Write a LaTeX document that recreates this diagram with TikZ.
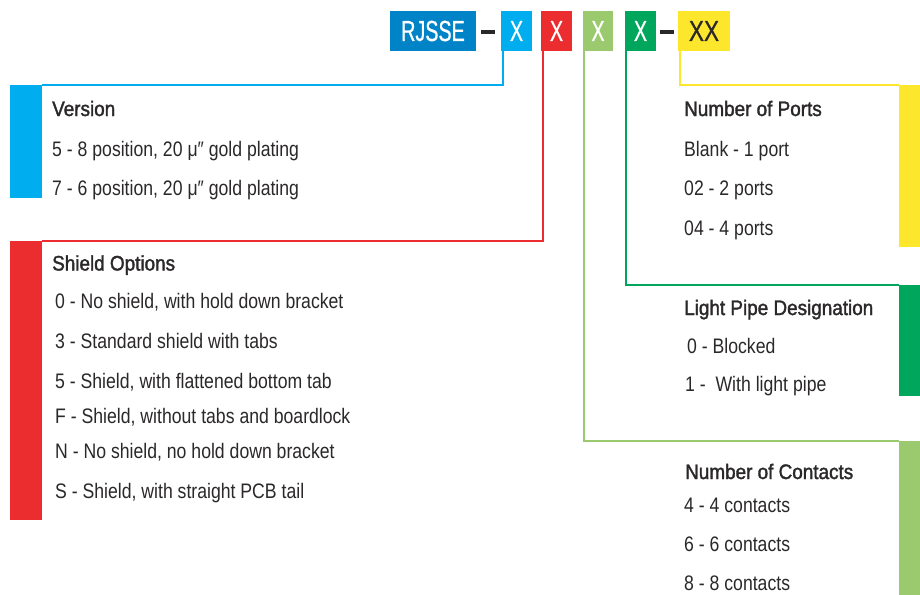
\documentclass[tikz,border=0pt]{standalone}
\usepackage{fontspec}
\setmainfont{Liberation Sans}[FakeStretch=0.84]
\newfontfamily\titlefont{Liberation Sans}[FakeStretch=0.90,FakeBold=1.6]
\newfontfamily\codefont{Liberation Sans}[FakeStretch=0.68,FakeBold=0.6]
\definecolor{cblue}{HTML}{0083C7}
\definecolor{ccyan}{HTML}{00AEEF}
\definecolor{cred}{HTML}{EC2D30}
\definecolor{clgreen}{HTML}{9BCA6E}
\definecolor{cgreen}{HTML}{00A65B}
\definecolor{cyellow}{HTML}{FDE72C}
\definecolor{ctext}{HTML}{2B2829}
\begin{document}
\begin{tikzpicture}[x=1pt,y=-1pt,
  codebox/.style={inner sep=0pt, minimum height=40pt, text=white,
    font=\codefont\fontsize{29}{29}\selectfont},
  dashbar/.style={fill=ctext, inner sep=0pt, minimum width=14pt, minimum height=3.5pt},
  bar/.style={inner sep=0pt},
  conn/.style={line width=2pt},
  ttl/.style={anchor=base west, inner sep=0pt, text=ctext, font=\titlefont\fontsize{21}{21}\selectfont},
  itm/.style={anchor=base west, inner sep=0pt, text=ctext, font=\fontsize{21}{21}\selectfont}
]
\useasboundingbox[fill=white] (0,0) rectangle (920,594);

% code boxes
\node[codebox, fill=cblue, minimum width=86pt] (rj) at (433,31) {RJSSE};
\node[dashbar] (d1) at (488,32) {};
\node[codebox, fill=ccyan, minimum width=31pt] (x1) at (516.5,31) {X};
\node[codebox, fill=cred, minimum width=31pt] (x2) at (556.5,31) {X};
\node[codebox, fill=clgreen, minimum width=30pt] (x3) at (598,31) {X};
\node[codebox, fill=cgreen, minimum width=31pt] (x4) at (640.5,31) {X};
\node[dashbar] (d2) at (667,32) {};
\node[codebox, fill=cyellow, minimum width=52pt, text=ctext,
  font=\codefont\fontsize{29}{29}\selectfont\addfontfeatures{FakeStretch=0.78}] (xx) at (704,31) {XX};

% side bars
\node[bar, fill=ccyan, minimum width=32pt, minimum height=113pt] (vbar) at (26,141.5) {};
\node[bar, fill=cred, minimum width=32pt, minimum height=279pt] (sbar) at (26,380.5) {};
\node[bar, fill=cyellow, minimum width=21pt, minimum height=162pt] (pbar) at (909.5,166) {};
\node[bar, fill=cgreen, minimum width=21pt, minimum height=111pt] (lbar) at (909.5,340.5) {};
\node[bar, fill=clgreen, minimum width=21pt, minimum height=155pt] (cbar) at (909.5,518.5) {};

% connectors
\draw[conn, ccyan] ([xshift=2pt]x1.south west) |- (vbar.north east);
\draw[conn, cred] ([xshift=2pt]x2.south west) |- (sbar.north east);
\draw[conn, clgreen] ([xshift=1pt]x3.south west) |- (cbar.north west);
\draw[conn, cgreen] ([xshift=1pt]x4.south west) |- (lbar.north west);
\draw[conn, cyellow] ([xshift=2pt]xx.south west) |- (pbar.north west);

% Version
\node[ttl] (vt) at (52,116) {Version};
\node[itm] (v1) at (52,156) {5 - 8 position, 20 μ″ gold plating};
\node[itm] (v2) at (52,195) {7 - 6 position, 20 μ″ gold plating};

% Shield options
\node[ttl] (st) at (52,270.5) {Shield Options};
\node[itm] (s1) at (55,308) {0 - No shield, with hold down bracket};
\node[itm] (s2) at (55,348) {3 - Standard shield with tabs};
\node[itm] (s3) at (55,388) {5 - Shield, with flattened bottom tab};
\node[itm] (s4) at (55,423) {F - Shield, without tabs and boardlock};
\node[itm] (s5) at (55,458) {N - No shield, no hold down bracket};
\node[itm] (s6) at (55,498) {S - Shield, with straight PCB tail};

% Number of ports
\node[ttl] (pt) at (684,116) {Number of Ports};
\node[itm] (p1) at (684,156) {Blank - 1 port};
\node[itm] (p2) at (684,195) {02 - 2 ports};
\node[itm] (p3) at (684,235) {04 - 4 ports};

% Light pipe
\node[ttl] (lt) at (684,315) {Light Pipe Designation};
\node[itm] (l1) at (687,353) {0 - Blocked};
\node[itm] (l2) at (685,391) {1 - \ With light pipe};

% Contacts
\node[ttl] (ct) at (685,479) {Number of Contacts};
\node[itm] (c1) at (684,512) {4 - 4 contacts};
\node[itm] (c2) at (684,551) {6 - 6 contacts};
\node[itm] (c3) at (684,590) {8 - 8 contacts};
\end{tikzpicture}
\end{document}
